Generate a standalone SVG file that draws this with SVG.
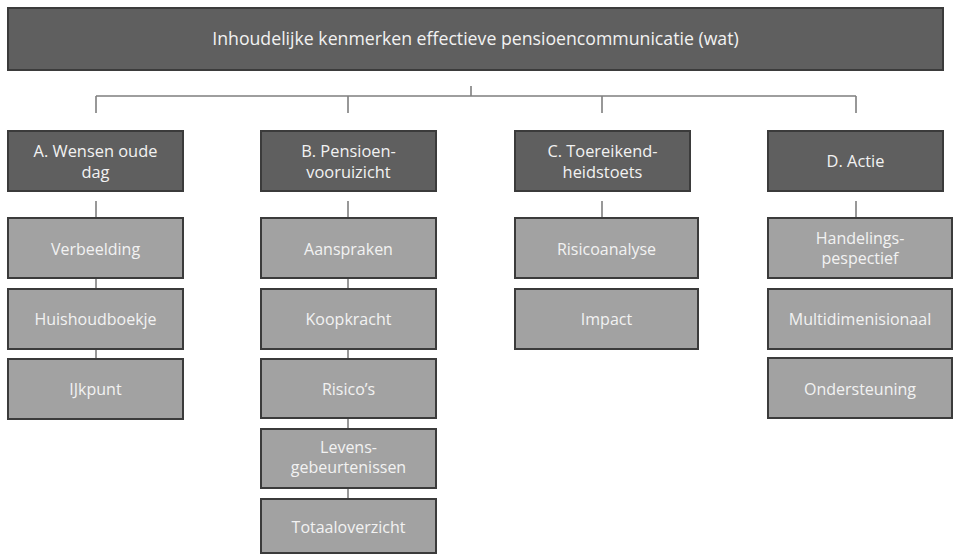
<svg xmlns="http://www.w3.org/2000/svg" width="957" height="555" viewBox="0 0 957 555">
<style>
.dark{fill:#5f5f5f;stroke:#3b3b3b;stroke-width:2}
.light{fill:#a2a2a2;stroke:#3b3b3b;stroke-width:2}
text{font-family:"Open Sans","Liberation Sans",sans-serif;font-size:16px;fill:#f2f2f2;text-anchor:middle}
.t1{font-size:16.4px}
.t0{font-size:17.7px}
.c{fill:none;stroke:#7f7f7f;stroke-width:1.6}
</style>
<rect width="957" height="555" fill="#ffffff"/>
<g id="connectors">
<path class="c" d="M471 86V96M96 96H856M96 96V113M348 96V113M602 96V113M856 96V113"/>
<path class="c" d="M96 201V218M348 201V218M602 201V218M856 201V218"/>
<path class="c" d="M96 279V289M96 349V359M348 279V289M348 349V359M348 419V429M348 489V499"/>
</g>
<g id="root"><rect class="dark" x="8" y="8" width="935" height="62"/><text class="t0" x="475.5" y="45">Inhoudelijke kenmerken effectieve pensioencommunicatie (wat)</text></g>
<g id="A"><rect class="dark" x="8" y="131" width="175" height="60"/><text class="t1" x="95.5" y="156.5">A. Wensen oude</text><text class="t1" x="95.5" y="177.5">dag</text></g>
<g id="B"><rect class="dark" x="261" y="131" width="175" height="60"/><text class="t1" x="348.5" y="156.5">B. Pensioen-</text><text class="t1" x="348.5" y="177.5">vooruizicht</text></g>
<g id="C"><rect class="dark" x="515" y="131" width="175" height="60"/><text class="t1" x="602.5" y="156.5">C. Toereikend-</text><text class="t1" x="602.5" y="177.5">heidstoets</text></g>
<g id="D"><rect class="dark" x="768" y="131" width="175" height="60"/><text class="t1" x="855.5" y="167">D. Actie</text></g>
<g id="A1"><rect class="light" x="8" y="218" width="175" height="60"/><text x="95.5" y="255">Verbeelding</text></g>
<g id="A2"><rect class="light" x="8" y="289" width="175" height="60"/><text x="95.5" y="325">Huishoudboekje</text></g>
<g id="A3"><rect class="light" x="8" y="359" width="175" height="60"/><text x="95.5" y="395">IJkpunt</text></g>
<g id="B1"><rect class="light" x="261" y="218" width="175" height="60"/><text x="348.5" y="255">Aanspraken</text></g>
<g id="B2"><rect class="light" x="261" y="289" width="175" height="60"/><text x="348.5" y="325">Koopkracht</text></g>
<g id="B3"><rect class="light" x="261" y="359" width="175" height="59"/><text x="348.5" y="395">Risico’s</text></g>
<g id="B4"><rect class="light" x="261" y="429" width="175" height="59"/><text x="348.5" y="453">Levens-</text><text x="348.5" y="473">gebeurtenissen</text></g>
<g id="B5"><rect class="light" x="261" y="499" width="175" height="54"/><text x="348.5" y="533">Totaaloverzicht</text></g>
<g id="C1"><rect class="light" x="515" y="218" width="183" height="60"/><text x="606.5" y="255">Risicoanalyse</text></g>
<g id="C2"><rect class="light" x="515" y="289" width="183" height="60"/><text x="606.5" y="325">Impact</text></g>
<g id="D1"><rect class="light" x="768" y="218" width="184" height="60"/><text x="860" y="244">Handelings-</text><text x="860" y="264">pespectief</text></g>
<g id="D2"><rect class="light" x="768" y="289" width="184" height="60"/><text x="860" y="325">Multidimenisionaal</text></g>
<g id="D3"><rect class="light" x="768" y="358" width="184" height="60"/><text x="860" y="395">Ondersteuning</text></g>
</svg>
